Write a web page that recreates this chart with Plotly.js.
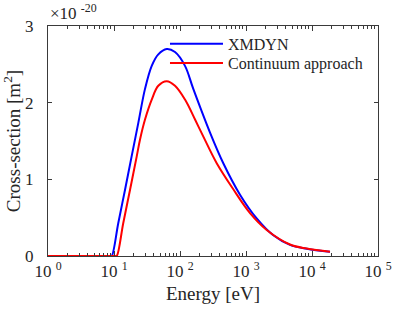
<!DOCTYPE html>
<html><head><meta charset="utf-8">
<script src="https://cdn.plot.ly/plotly-3.0.1.min.js"></script>
<style>html,body{margin:0;padding:0;background:#fff}#chart{width:395px;height:313px}</style>
</head><body><div id="chart"></div>
<script>
// Energy in eV, cross-section in units of 1e-20 m^2
const energyXmdyn = [1, 8.8, 9.23, 11.6, 14.7, 18.5, 23.4, 29.5, 37.3, 46.9, 62.9, 84.0, 119, 159, 285, 453, 811, 1452, 2594, 4645, 8318, 18750];
const sigmaXmdyn  = [0, 0, 0, 0.428, 0.865, 1.30, 1.74, 2.18, 2.48, 2.63, 2.70, 2.66, 2.48, 2.18, 1.61, 1.21, 0.80, 0.49, 0.27, 0.145, 0.095, 0.056];
const energyCont  = [1, 10.5, 11.0, 13.8, 17.5, 22.1, 24.8, 29.5, 37.3, 46.9, 62.9, 84.0, 119, 169, 225, 360, 642, 1150, 2059, 4645, 8318, 18750];
const sigmaCont   = [0, 0, 0, 0.428, 0.865, 1.30, 1.52, 1.78, 2.04, 2.22, 2.28, 2.22, 2.04, 1.78, 1.56, 1.21, 0.87, 0.56, 0.34, 0.15, 0.097, 0.056];
const xTickVals = [1, 10, 100, 1000, 10000, 100000];
const xTickText = ['10 <sup>0</sup>', '10 <sup>1</sup>', '10 <sup>2</sup>', '10 <sup>3</sup>', '10 <sup>4</sup>', '10 <sup>5</sup>'];
const yTickVals = [0, 1, 2, 3];
const seriesNames = ['XMDYN', 'Continuum approach'];

const serifFamily = 'Times New Roman';
const axisColor = '#3a3a3a';
const textColor = '#262626';
const traces = [
  {x: energyXmdyn, y: sigmaXmdyn, name: seriesNames[0], type: 'scatter', mode: 'lines', legend: 'legend',
   line: {color: '#0000ff', width: 2, shape: 'spline', smoothing: 1}},
  {x: energyCont, y: sigmaCont, name: seriesNames[1], type: 'scatter', mode: 'lines', legend: 'legend2',
   line: {color: '#ff0000', width: 2, shape: 'spline', smoothing: 1}}
];
const layout = {
  width: 395, height: 313,
  margin: {l: 48, r: 17, t: 26, b: 57},
  paper_bgcolor: '#fff', plot_bgcolor: '#fff',
  showlegend: true,
  legend: {x: 0.3545, y: 0.922, xanchor: 'left', yanchor: 'middle', bgcolor: 'rgba(0,0,0,0)',
           font: {family: serifFamily, size: 16, color: textColor}, itemwidth: 53},
  legend2: {x: 0.3545, y: 0.839, xanchor: 'left', yanchor: 'middle', bgcolor: 'rgba(0,0,0,0)',
            font: {family: serifFamily, size: 16, color: textColor}, itemwidth: 53},
  xaxis: {type: 'log', range: [0, 5], tickvals: xTickVals, ticktext: xTickText,
          ticks: 'inside', ticklen: 5, tickcolor: axisColor, showline: true, linecolor: axisColor,
          mirror: 'ticks', showgrid: false, zeroline: false,
          minor: {ticks: 'inside', ticklen: 3, dtick: 'D1', tickcolor: axisColor, showgrid: false},
          tickfont: {family: serifFamily, size: 17, color: textColor},
          title: {text: 'Energy [eV]', font: {family: serifFamily, size: 19, color: textColor}, standoff: 6}},
  yaxis: {range: [0, 3], tickvals: yTickVals, ticks: 'inside', ticklen: 4, tickcolor: axisColor,
          showline: true, linecolor: axisColor, mirror: 'ticks', showgrid: false, zeroline: false,
          ticklabelstandoff: 10,
          tickfont: {family: serifFamily, size: 17, color: textColor},
          title: {text: 'Cross-section [m<sup>2</sup>]', font: {family: serifFamily, size: 19, color: textColor}, standoff: 8}},
  annotations: [{xref: 'paper', yref: 'paper', x: 0, y: 1, xanchor: 'left', yanchor: 'bottom',
                 yshift: 1, showarrow: false, text: '×10 <sup>-20</sup>',
                 font: {family: serifFamily, size: 17, color: textColor}}]
};
Plotly.newPlot('chart', traces, layout, {displayModeBar: false, staticPlot: true});
</script></body></html>
